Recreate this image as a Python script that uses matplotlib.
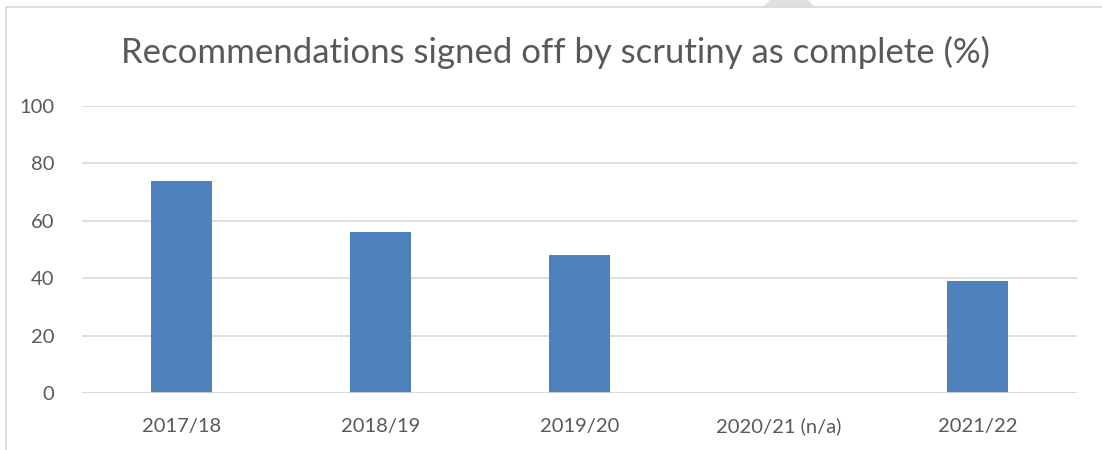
import matplotlib.pyplot as plt
from matplotlib.patches import Polygon
from matplotlib.lines import Line2D

plt.rcParams['font.family'] = ['Lato', 'DejaVu Sans']

years = ['2017/18', '2018/19', '2019/20', '2020/21 (n/a)', '2021/22']
signed_off = [74, 56, 48, None, 39]

fig = plt.figure(figsize=(11.02, 4.5), dpi=100)
ax = fig.add_axes([82 / 1102, 1 - 393 / 450, 995 / 1102, 287 / 450])

text_col = '#595959'
grid_col = '#d9d9d9'

xs = [i for i, v in enumerate(signed_off) if v is not None]
vals = [v for v in signed_off if v is not None]
ax.bar(xs, vals, width=0.31, color='#4f81bd', zorder=3)

ax.set_xlim(-0.5, len(years) - 0.5)
ax.set_ylim(0, 100)
ax.set_xticks(range(len(years)))
ax.set_xticklabels(years, va='center_baseline')
ax.set_yticks(range(0, 101, 20))
ax.tick_params(axis='both', length=0, labelsize=14.5, colors=text_col)
ax.tick_params(axis='x', pad=23)
ax.tick_params(axis='y', pad=20)
ax.grid(axis='y', color=grid_col, linewidth=1.2, zorder=0)
for s in ax.spines.values():
    s.set_visible(False)
ax.axhline(0, color=grid_col, linewidth=1.2, zorder=4)

fig.text(0.504, 1 - 52 / 450, 'Recommendations signed off by scrutiny as complete (%)',
         ha='center', va='center', fontsize=25, color=text_col)

# chart frame and the grey tab at the top
fig.add_artist(Line2D([6 / 1102, 6 / 1102], [0, 1 - 7 / 450], transform=fig.transFigure,
                      color=grid_col, linewidth=1.2))
fig.add_artist(Line2D([6 / 1102, 1], [1 - 7 / 450, 1 - 7 / 450], transform=fig.transFigure,
                      color=grid_col, linewidth=1.2))
tab = [(770, 0), (808, 0), (815, 7), (763, 7)]
fig.add_artist(Polygon([(x / 1102, 1 - y / 450) for x, y in tab], closed=True,
                       transform=fig.transFigure, facecolor='#e0e0e0', edgecolor='none'))

fig.savefig('out.png', dpi=100)
